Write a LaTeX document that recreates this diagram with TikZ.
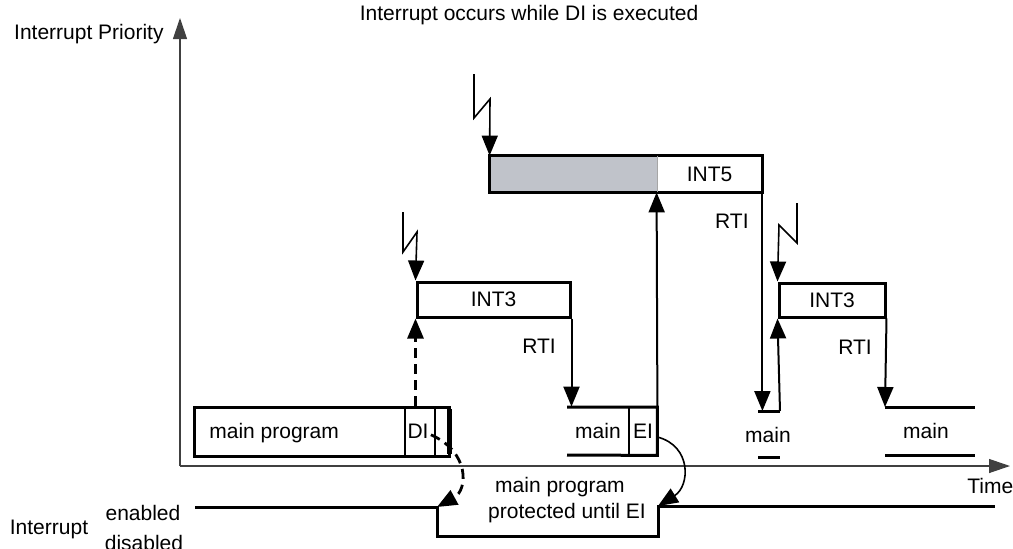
\documentclass[tikz,border=0pt]{standalone}
\usepackage{fontspec}
\setmainfont{Liberation Sans}
\usetikzlibrary{positioning, arrows.meta, fit, calc}
\definecolor{busy}{HTML}{C0C3CA}
\tikzset{
  box/.style={draw, line width=1.5pt, inner sep=0pt},
  level/.style={line width=1.5pt},
  conn/.style={line width=1pt, -{Triangle[length=10pt,width=8pt]}},
  bolt/.style={line width=0.8pt, -{Triangle[length=10pt,width=8pt]}},
  axis/.style={line width=0.6pt, black!75, -{Triangle[length=10.5pt,width=7pt]}},
  txt/.style={inner sep=0pt, anchor=base},
}

\begin{document}
\begin{tikzpicture}[x=0.5pt, y=-0.5pt, font=\fontsize{10.5}{12.6}\selectfont]
  \useasboundingbox (0,0) rectangle (1013,548);
  % axes and titles
  \coordinate (origin) at (180,466);
  \coordinate (ytip) at (180,18);
  \coordinate (xtip) at (1010,466);
  \draw[axis] (origin) -- (ytip);
  \draw[axis] (origin) -- (xtip);
  \node[txt, anchor=base east] (prio) at (164,39) {Interrupt Priority};
  \node[txt, anchor=base west] (time) at (967,493) {Time};
  \node[txt] (title) at (529,20) {Interrupt occurs while DI is executed};

  % main program with DI
  \node[box, fit={(194,407) (449,456)}] (prog) {};
  \draw[line width=1pt] (405,407) -- (405,456) (435,407) -- (435,456);
  \draw[line width=2.2pt] (449.5,409) -- (449.5,454);
  \node[txt, anchor=base west] (progtxt) at (209,438) {main program};
  \node[txt] (di) at (418,438) {DI};

  % first INT3
  \node[box, fit={(417,282) (570,317)}, label=center:INT3] (int3a) {};
  \node[txt] (rtia) at (539,353) {RTI};

  % INT5, grey while DI is still running
  \node[fill=busy, inner sep=0pt, fit={(490,156) (657,192)}] (wait) {};
  \node[inner sep=0pt, fit={(657,156) (762,192)}, label=center:INT5] (int5) {};
  \node[box, fit=(wait) (int5)] (int5box) {};
  \draw[line width=0.6pt, black!35] (wait.north east) -- (wait.south east);
  \node[txt, anchor=base east] (rtib) at (749,228) {RTI};

  % main with EI
  \node[inner sep=0pt, fit={(629,407) (657,455)}] (ei) {};
  \node[txt] (eitxt) at (643,438) {EI};
  \node[txt] (m2) at (598,438) {main};
  \draw[level] (567,407) -| (ei.south east) -- (567,455);
  \draw[line width=1pt] (ei.north west) -- (ei.south west);

  % short main
  \coordinate (m3a) at (758,411);
  \coordinate (m3b) at (780,411);
  \draw[level] (m3a) -- (m3b) (758,457) -- (780,457);
  \node[txt] (m3) at (768,442) {main};

  % second INT3
  \node[box, fit={(779,283) (885,317)}, label=center:INT3] (int3b) {};
  \node[txt] (rtic) at (855,354) {RTI};
  \coordinate (m4a) at (885,407);
  \draw[level] (m4a) -- (975,407) (885,455) -- (975,455);
  \node[txt] (m4) at (926,438) {main};

  % interrupt requests
  \draw[bolt] (403,212) -- (403,252) -- (417,232) -- (int3a.north west);
  \draw[bolt] (474,74) -- (474,118) -- (490,99) -- (wait.north west);
  \draw[bolt] (797,203) -- (797,243) -- (779,225) -- (int3b.north west);

  % transitions
  \draw[conn, line width=1.4pt, dash pattern=on 5pt off 3pt] (int3a.south west |- prog.north) -- (int3a.south west);
  \draw[conn] (int3a.south east) -- (int3a.south east |- ei.north);
  \draw[conn] (ei.north east) -- (int5.south west);
  \draw[conn] (int5.south east) -- (int5.south east |- m3a);
  \draw[conn] (m3b) -- (int3b.south west);
  \draw[conn] (int3b.south east) -- (m4a);

  % interrupt enable level
  \coordinate (en0) at (195,507);
  \coordinate (en1) at (437,507);
  \coordinate (en2) at (658,506);
  \coordinate (en3) at (995,506);
  \draw[level] (en0) -- (en1) -- ++(0,29) -| (en2) -- (en3);
  \node[txt] (intr) at (49,534) {Interrupt};
  \node[txt] (enab) at (143,520) {enabled};
  \node[txt] (disab) at (144,550) {disabled};
  \node[txt] (prot1) at (560,492) {main program};
  \node[txt] (prot2) at (567,518) {protected until EI};

  \draw[conn, line width=1.4pt, dash pattern=on 5pt off 3pt] (di.east) ++(2,4) .. controls (470,452) and (468,490) .. (en1);
  \draw[conn, line width=0.8pt] (ei.east) ++(0,6) .. controls (692,446) and (690,486) .. (en2);
\end{tikzpicture}
\end{document}
